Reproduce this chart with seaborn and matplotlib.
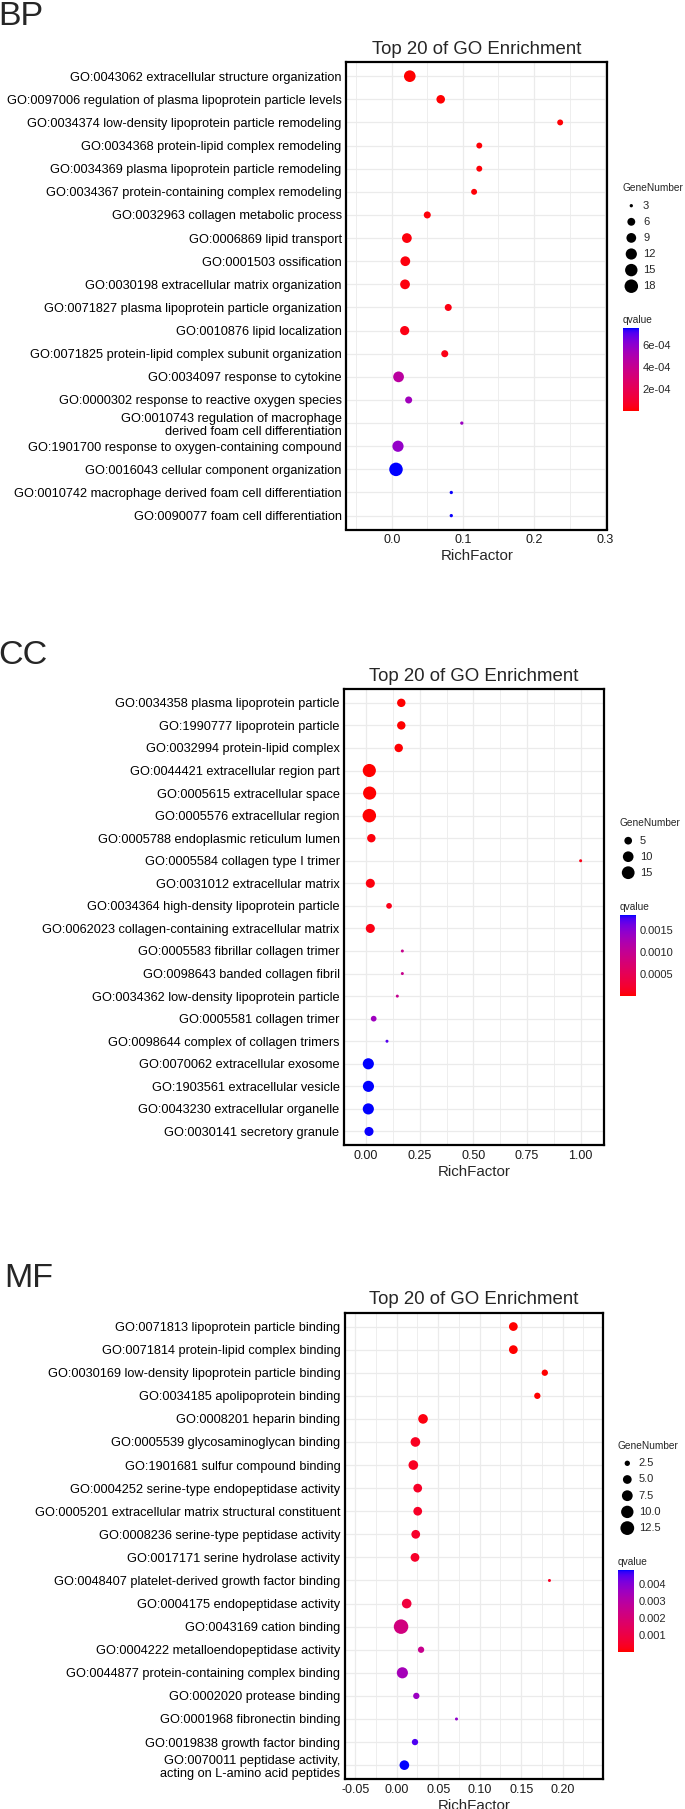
import numpy as np
import pandas as pd
import matplotlib
matplotlib.use("Agg")
import matplotlib.pyplot as plt
from matplotlib.colors import LinearSegmentedColormap, Normalize
from matplotlib.cm import ScalarMappable
from matplotlib.ticker import MultipleLocator, FormatStrFormatter, FuncFormatter
import seaborn as sns

# ---------------- data ----------------
bp_terms = [
    "GO:0043062 extracellular structure organization",
    "GO:0097006 regulation of plasma lipoprotein particle levels",
    "GO:0034374 low-density lipoprotein particle remodeling",
    "GO:0034368 protein-lipid complex remodeling",
    "GO:0034369 plasma lipoprotein particle remodeling",
    "GO:0034367 protein-containing complex remodeling",
    "GO:0032963 collagen metabolic process",
    "GO:0006869 lipid transport",
    "GO:0001503 ossification",
    "GO:0030198 extracellular matrix organization",
    "GO:0071827 plasma lipoprotein particle organization",
    "GO:0010876 lipid localization",
    "GO:0071825 protein-lipid complex subunit organization",
    "GO:0034097 response to cytokine",
    "GO:0000302 response to reactive oxygen species",
    "GO:0010743 regulation of macrophage\nderived foam cell differentiation",
    "GO:1901700 response to oxygen-containing compound",
    "GO:0016043 cellular component organization",
    "GO:0010742 macrophage derived foam cell differentiation",
    "GO:0090077 foam cell differentiation",
]
bp_rich = [0.0252, 0.0687, 0.2368, 0.1230, 0.1230, 0.1157, 0.0498, 0.0211, 0.0189, 0.0185,
           0.0793, 0.0180, 0.0744, 0.0094, 0.0236, 0.0984, 0.0086, 0.0058, 0.0836, 0.0836]
bp_genes = [13, 7, 4, 4, 4, 4, 5, 9, 9, 9, 5, 8, 5, 11, 5, 3, 12, 18, 3, 3]
bp_qvalue = [1.0e-6, 5e-6, 8e-6, 1e-5, 1e-5, 1.2e-5, 1.5e-5, 1.8e-5, 2e-5, 2e-5,
             2.5e-5, 3e-5, 3.5e-5, 4.5e-4, 5.4e-4, 5.6e-4, 5.8e-4, 7.5e-4, 7.45e-4, 7.45e-4]
bp_size_breaks = [3, 6, 9, 12, 15, 18]
bp_q_ticks = [2e-4, 4e-4, 6e-4]

cc_terms = [
    "GO:0034358 plasma lipoprotein particle",
    "GO:1990777 lipoprotein particle",
    "GO:0032994 protein-lipid complex",
    "GO:0044421 extracellular region part",
    "GO:0005615 extracellular space",
    "GO:0005576 extracellular region",
    "GO:0005788 endoplasmic reticulum lumen",
    "GO:0005584 collagen type I trimer",
    "GO:0031012 extracellular matrix",
    "GO:0034364 high-density lipoprotein particle",
    "GO:0062023 collagen-containing extracellular matrix",
    "GO:0005583 fibrillar collagen trimer",
    "GO:0098643 banded collagen fibril",
    "GO:0034362 low-density lipoprotein particle",
    "GO:0005581 collagen trimer",
    "GO:0098644 complex of collagen trimers",
    "GO:0070062 extracellular exosome",
    "GO:1903561 extracellular vesicle",
    "GO:0043230 extracellular organelle",
    "GO:0030141 secretory granule",
]
cc_rich = [0.164, 0.164, 0.152, 0.015, 0.0165, 0.015, 0.0244, 1.0, 0.0197, 0.107,
           0.0197, 0.169, 0.169, 0.1455, 0.0354, 0.0974, 0.0104, 0.0109, 0.0104, 0.0135]
cc_genes = [6, 6, 6, 16, 16, 17, 6, 2, 7, 3, 7, 2, 2, 2, 3, 2, 11, 11, 11, 7]
cc_qvalue = [1e-5, 1e-5, 2e-5, 1.5e-5, 1.5e-5, 1.2e-5, 5e-5, 9e-5, 6e-5, 1e-4,
             8e-5, 9.5e-4, 9.5e-4, 9.8e-4, 1.35e-3, 1.72e-3, 1.84e-3, 1.84e-3, 1.84e-3, 1.83e-3]
cc_size_breaks = [5, 10, 15]
cc_q_ticks = [0.0005, 0.0010, 0.0015]

mf_terms = [
    "GO:0071813 lipoprotein particle binding",
    "GO:0071814 protein-lipid complex binding",
    "GO:0030169 low-density lipoprotein particle binding",
    "GO:0034185 apolipoprotein binding",
    "GO:0008201 heparin binding",
    "GO:0005539 glycosaminoglycan binding",
    "GO:1901681 sulfur compound binding",
    "GO:0004252 serine-type endopeptidase activity",
    "GO:0005201 extracellular matrix structural constituent",
    "GO:0008236 serine-type peptidase activity",
    "GO:0017171 serine hydrolase activity",
    "GO:0048407 platelet-derived growth factor binding",
    "GO:0004175 endopeptidase activity",
    "GO:0043169 cation binding",
    "GO:0004222 metalloendopeptidase activity",
    "GO:0044877 protein-containing complex binding",
    "GO:0002020 protease binding",
    "GO:0001968 fibronectin binding",
    "GO:0019838 growth factor binding",
    "GO:0070011 peptidase activity,\nacting on L-amino acid peptides",
]
mf_rich = [0.1405, 0.1405, 0.1784, 0.1694, 0.0317, 0.0225, 0.0200, 0.0253, 0.0253, 0.0229,
           0.0220, 0.1840, 0.0120, 0.0052, 0.0293, 0.0068, 0.0236, 0.0720, 0.0220, 0.0092]
mf_genes = [5, 5, 3, 3, 6, 6, 6, 5, 5, 5, 5, 2, 6, 14, 3, 8, 3, 2, 3, 6]
mf_qvalue = [1e-5, 1e-5, 2e-5, 2e-5, 1.5e-4, 3.5e-4, 3.8e-4, 4.5e-4, 4.5e-4, 4.8e-4,
             4.8e-4, 4.0e-4, 8.5e-4, 2.2e-3, 2.5e-3, 3.4e-3, 3.6e-3, 3.8e-3, 4.55e-3, 4.82e-3]
mf_size_breaks = [2.5, 5.0, 7.5, 10.0, 12.5]
mf_q_ticks = [0.001, 0.002, 0.003, 0.004]

# ---------------- style ----------------
W, H, DPI = 685, 1809, 100
sns.set_style("white")
plt.rcParams["font.family"] = ["Liberation Sans", "DejaVu Sans"]
plt.rcParams["axes.unicode_minus"] = False


def _srgb_to_lab(c):
    c = np.asarray(c, float)
    lin = np.where(c <= 0.04045, c / 12.92, ((c + 0.055) / 1.055) ** 2.4)
    xyz = M_RGB2XYZ @ lin / WHITE
    f = np.where(xyz > (6 / 29) ** 3, np.cbrt(xyz), xyz / (3 * (6 / 29) ** 2) + 4 / 29)
    return np.array([116 * f[1] - 16, 500 * (f[0] - f[1]), 200 * (f[1] - f[2])])


def _lab_to_srgb(lab):
    fy = (lab[0] + 16) / 116
    f = np.array([fy + lab[1] / 500, fy, fy - lab[2] / 200])
    xyz = np.where(f > 6 / 29, f ** 3, 3 * (6 / 29) ** 2 * (f - 4 / 29)) * WHITE
    lin = np.linalg.inv(M_RGB2XYZ) @ xyz
    lin = np.clip(lin, 0, None)
    c = np.where(lin <= 0.0031308, 12.92 * lin, 1.055 * lin ** (1 / 2.4) - 0.055)
    return np.clip(c, 0, 1)


M_RGB2XYZ = np.array([[0.4124564, 0.3575761, 0.1804375],
                      [0.2126729, 0.7151522, 0.0721750],
                      [0.0193339, 0.1191920, 0.9503041]])
WHITE = np.array([0.95047, 1.0, 1.08883])
lab_lo, lab_hi = _srgb_to_lab([1, 0, 0]), _srgb_to_lab([0, 0, 1])
QCMAP = LinearSegmentedColormap.from_list(
    "red_blue_lab", [_lab_to_srgb(lab_lo + (lab_hi - lab_lo) * t) for t in np.linspace(0, 1, 64)])


def px_rect(x0, y0, x1, y1):
    return [x0 / W, 1 - y1 / H, (x1 - x0) / W, (y1 - y0) / H]


fig = plt.figure(figsize=(W / DPI, H / DPI), dpi=DPI)


def draw_panel(tag, terms, rich, genes, qvals, size_breaks, q_ticks, q_fmt, geo):
    df = pd.DataFrame({"Term": terms, "RichFactor": rich,
                       "GeneNumber": genes, "qvalue": qvals})
    gmin, gmax = min(genes), max(genes)
    dmin, dmax = geo["dot_px"]

    def area(g):
        t = max((g - gmin) / (gmax - gmin), 0)
        return ((dmin + (dmax - dmin) * np.sqrt(t)) * 72 / DPI) ** 2

    norm = Normalize(min(qvals), max(qvals))
    ax = fig.add_axes(px_rect(*geo["axes"]))
    sns.scatterplot(data=df, x="RichFactor", y="Term", hue="qvalue", size="GeneNumber",
                    palette=QCMAP, hue_norm=norm,
                    sizes={g: area(g) for g in set(genes)},
                    linewidth=0, legend=False, ax=ax, zorder=3)
    n = len(terms)
    ax.set_ylim(n - 0.4, -0.6)
    ax.set_xlim(*geo["xlim"])
    ax.xaxis.set_major_locator(MultipleLocator(geo["xstep"]))
    ax.xaxis.set_minor_locator(MultipleLocator(geo["xstep"] / 2))
    ax.xaxis.set_major_formatter(FormatStrFormatter(geo["xfmt"]))
    ax.set_axisbelow(True)
    ax.grid(True, which="major", color="#EBEBEB", lw=0.9)
    ax.grid(True, which="minor", axis="x", color="#EBEBEB", lw=0.6)
    for sp in ax.spines.values():
        sp.set_color("black")
        sp.set_linewidth(1.6)
    ax.tick_params(which="major", length=2.2, width=0.7, color="#333333", pad=1.2)
    ax.tick_params(which="minor", length=0)
    ax.tick_params(axis="y", labelsize=9.2, labelcolor="black")
    ax.tick_params(axis="x", labelsize=9, labelcolor="#1a1a1a")
    ax.set_ylabel("")
    ax.set_xlabel("RichFactor", fontsize=10.9, labelpad=2)
    ax.set_title("Top 20 of GO Enrichment", fontsize=13.4, pad=6)

    # panel tag
    fig.text(geo["tag"][0] / W, 1 - geo["tag"][1] / H, tag, fontsize=24.5,
             ha="left", va="baseline")

    # size legend
    lg = geo["legend"]
    fig.text(lg["x"] / W, 1 - lg["title_y"] / H, "GeneNumber", fontsize=7.3,
             ha="left", va="center")
    k = len(size_breaks)
    lax = fig.add_axes(px_rect(lg["x"], lg["y0"] - lg["step"] / 2, W,
                               lg["y0"] + (k - 0.5) * lg["step"]))
    lax.set_xlim(lg["x"], W)
    lax.set_ylim(k - 0.5, -0.5)
    lax.axis("off")
    lax.scatter([lg["dot_x"]] * k, range(k), s=[area(b) for b in size_breaks],
                color="black", linewidth=0)
    for i, b in enumerate(size_breaks):
        lax.text(lg["label_x"], i, f"{b:g}" if isinstance(b, int) else f"{b:.1f}",
                 fontsize=8, va="center", ha="left")

    # colour bar
    fig.text(lg["x"] / W, 1 - lg["q_title_y"] / H, "qvalue", fontsize=7.3,
             ha="left", va="center")
    cax = fig.add_axes(px_rect(*lg["cbar"]))
    cb = fig.colorbar(ScalarMappable(norm=norm, cmap=QCMAP), cax=cax)
    cb.outline.set_visible(False)
    cb.set_ticks(q_ticks)
    cb.ax.yaxis.set_major_formatter(q_fmt)
    cax.tick_params(axis="y", which="major", left=True, right=True, labelleft=False,
                    labelright=True, direction="in", color="white", length=3.2,
                    width=0.8, labelsize=8, pad=3)
    cax.minorticks_off()
    return ax


geo_bp = dict(axes=(346.4, 62.3, 607.2, 529.5), xlim=(-0.064, 0.303), xstep=0.1,
              xfmt="%.1f", tag=(-2, 25), dot_px=(3.3, 13.5),
              legend=dict(x=622.5, title_y=188, y0=205.7, step=16.1, dot_x=631.3,
                          label_x=643, q_title_y=320, cbar=(622.5, 328.3, 638.7, 410.7)))
geo_cc = dict(axes=(344.3, 689.3, 603.8, 1145), xlim=(-0.1016, 1.108), xstep=0.25,
              xfmt="%.2f", tag=(-1.5, 664), dot_px=(3.0, 13.5),
              legend=dict(x=619.5, title_y=823.3, y0=840.7, step=16, dot_x=628.2,
                          label_x=640, q_title_y=906.7, cbar=(619.5, 915, 635.6, 996)))
geo_mf = dict(axes=(345.1, 1312.7, 602.9, 1779), xlim=(-0.0622, 0.2484), xstep=0.05,
              xfmt="%.2f", tag=(4, 1287), dot_px=(3.0, 14.5),
              legend=dict(x=618, title_y=1445.7, y0=1463.3, step=16.2, dot_x=627.3,
                          label_x=638.7, q_title_y=1561.7, cbar=(618, 1570, 634.3, 1651.7)))

axes = [
    draw_panel("BP", bp_terms, bp_rich, bp_genes, bp_qvalue, bp_size_breaks, bp_q_ticks,
               FuncFormatter(lambda v, p: f"{v:.0e}"), geo_bp),
    draw_panel("CC", cc_terms, cc_rich, cc_genes, cc_qvalue, cc_size_breaks, cc_q_ticks,
               FormatStrFormatter("%.4f"), geo_cc),
    draw_panel("MF", mf_terms, mf_rich, mf_genes, mf_qvalue, mf_size_breaks, mf_q_ticks,
               FormatStrFormatter("%.3f"), geo_mf),
]

fig.canvas.draw()
for ax in axes:
    for t in ax.get_yticklabels():
        t.set_linespacing(1.15)

fig.savefig("out.png", dpi=DPI)
